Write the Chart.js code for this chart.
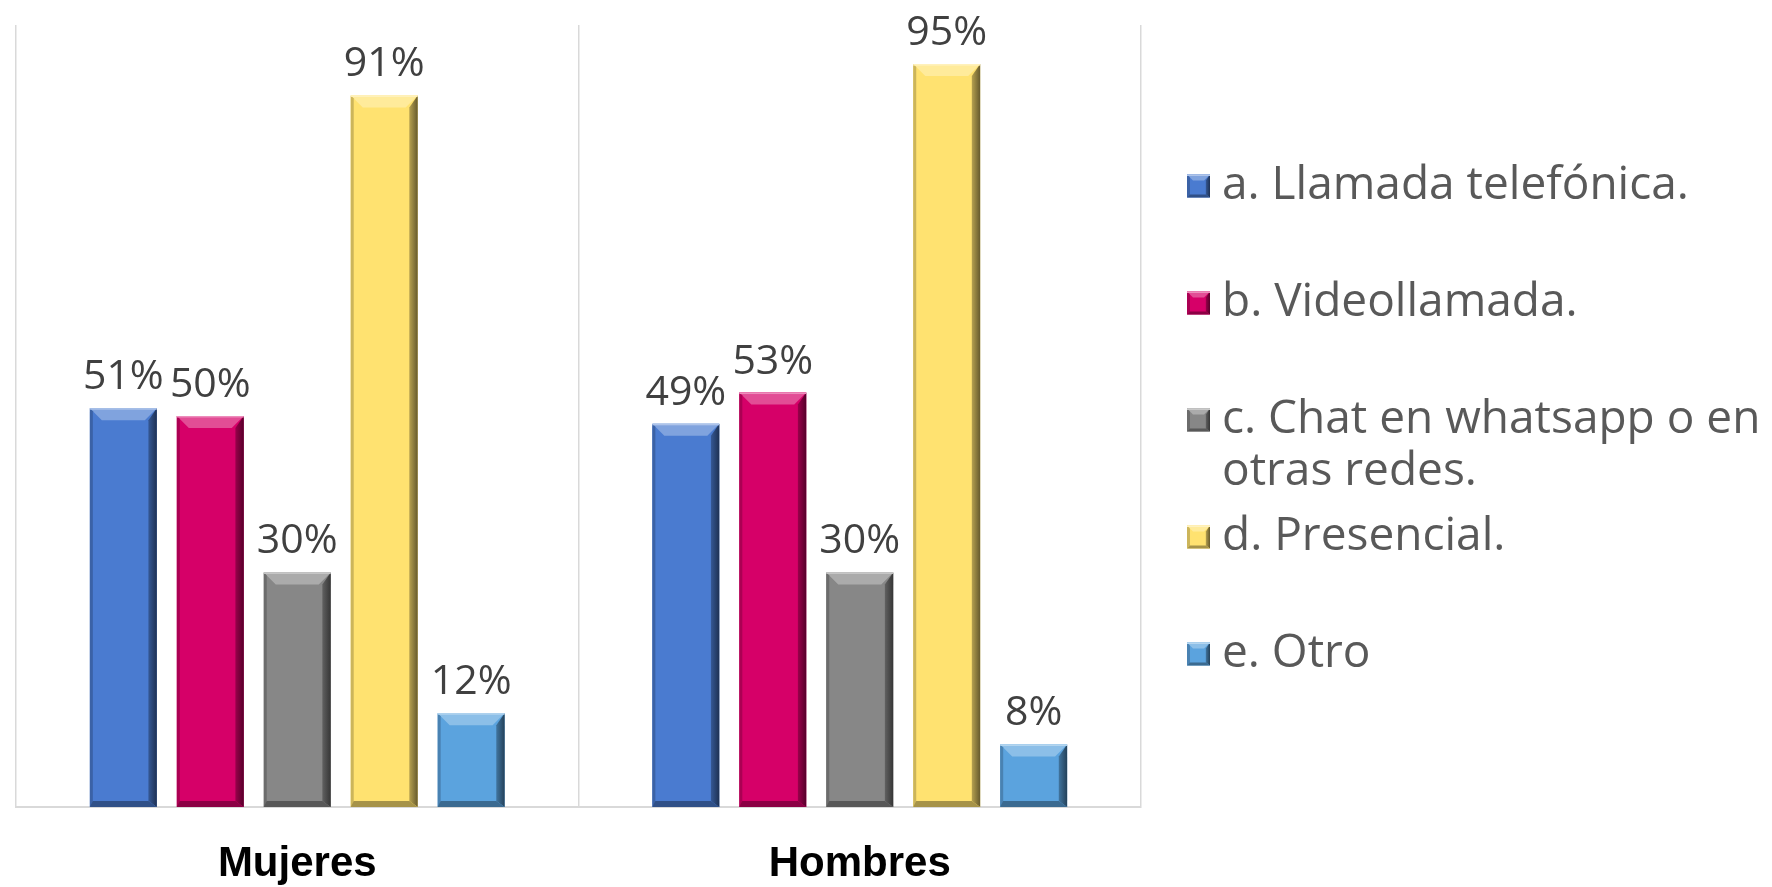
<!DOCTYPE html>
<html><head><meta charset="utf-8">
<script src="https://cdn.jsdelivr.net/npm/chart.js@4/dist/chart.umd.min.js"></script>
<style>html,body{margin:0;padding:0;background:#fff;}#wrap{width:1772px;height:887px;position:relative}</style>
</head><body><div id="wrap"><canvas id="c" width="1772" height="887"></canvas></div>
<script>
const categories = ['Mujeres', 'Hombres'];
const seriesLabels = ['a. Llamada telefónica.', 'b. Videollamada.', 'c. Chat en whatsapp o en otras redes.', 'd. Presencial.', 'e. Otro'];
const llamada = [51, 49];
const videollamada = [50, 53];
const chat = [30, 30];
const presencial = [91, 95];
const otro = [12, 8];
const seriesColors = ['#4A7BD0', '#D60068', '#878787', '#FFE270', '#5BA3DE'];

const seriesValues = [llamada, videollamada, chat, presencial, otro];

function shade(hex, amt) {
  const n = parseInt(hex.slice(1), 16);
  let r = (n >> 16) & 255, g = (n >> 8) & 255, b = n & 255;
  const t = amt < 0 ? 0 : 255, p = Math.abs(amt);
  r = Math.round((t - r) * p + r); g = Math.round((t - g) * p + g); b = Math.round((t - b) * p + b);
  return 'rgb(' + r + ',' + g + ',' + b + ')';
}

function bevel(ctx, x0, x1, top, bottom, color, b) {
  const h = bottom - top;
  const bt = Math.min(b, h / 2);
  // top bevel
  ctx.fillStyle = shade(color, 0.3);
  ctx.beginPath();
  ctx.moveTo(x0, top); ctx.lineTo(x1, top); ctx.lineTo(x1 - bt, top + bt); ctx.lineTo(x0 + bt, top + bt); ctx.closePath(); ctx.fill();
  // right side shadow
  const g = ctx.createLinearGradient(x1 - bt, 0, x1, 0);
  g.addColorStop(0, shade(color, -0.15));
  g.addColorStop(1, shade(color, -0.6));
  ctx.fillStyle = g;
  ctx.beginPath();
  ctx.moveTo(x1, top); ctx.lineTo(x1, bottom); ctx.lineTo(x1 - bt * 0.7, bottom - bt * 0.5); ctx.lineTo(x1 - bt * 0.7, top + bt); ctx.closePath(); ctx.fill();
  // left side
  ctx.fillStyle = shade(color, -0.2);
  ctx.beginPath();
  ctx.moveTo(x0, top); ctx.lineTo(x0 + 3, top + 3); ctx.lineTo(x0 + 3, bottom - 3); ctx.lineTo(x0, bottom); ctx.closePath(); ctx.fill();
  // bottom
  ctx.fillStyle = shade(color, -0.35);
  ctx.beginPath();
  ctx.moveTo(x0, bottom); ctx.lineTo(x1, bottom); ctx.lineTo(x1 - bt * 0.7, bottom - bt * 0.5); ctx.lineTo(x0 + 3, bottom - bt * 0.5); ctx.closePath(); ctx.fill();
  // top highlight line
  ctx.fillStyle = shade(color, 0.55);
  ctx.fillRect(x0, top, x1 - x0, 1.5);
}

const bevelPlugin = {
  id: 'bevel',
  afterDatasetsDraw(chart) {
    const ctx = chart.ctx;
    ctx.save();
    chart.data.datasets.forEach((ds, i) => {
      chart.getDatasetMeta(i).data.forEach((bar) => {
        const w = bar.width;
        bevel(ctx, bar.x - w / 2, bar.x + w / 2, bar.y, bar.base, ds.backgroundColor, 12);
      });
    });
    ctx.restore();
  }
};

const labelPlugin = {
  id: 'valueLabels',
  afterDatasetsDraw(chart) {
    const ctx = chart.ctx;
    ctx.save();
    ctx.fillStyle = '#404040';
    ctx.font = '41px "Open Sans"';
    ctx.textAlign = 'center';
    ctx.textBaseline = 'alphabetic';
    chart.data.datasets.forEach((ds, i) => {
      chart.getDatasetMeta(i).data.forEach((bar, j) => {
        ctx.fillText(ds.data[j] + '%', bar.x, bar.y - 19);
      });
    });
    ctx.restore();
  }
};

const legendPlugin = {
  id: 'sideLegend',
  afterDraw(chart) {
    const ctx = chart.ctx;
    ctx.save();
    const boxX = 1187, box = 23, textX = 1222, maxW = 560, startY = 186, step = 117, lineH = 52;
    ctx.font = '46px "Open Sans"';
    ctx.textBaseline = 'middle';
    ctx.textAlign = 'left';
    chart.data.datasets.forEach((ds, i) => {
      const cy = startY + i * step;
      ctx.fillStyle = ds.backgroundColor;
      ctx.fillRect(boxX, cy - box / 2, box, box);
      bevel(ctx, boxX, boxX + box, cy - box / 2, cy + box / 2, ds.backgroundColor, 6);
      ctx.fillStyle = '#595959';
      const words = ds.label.split(' ');
      let line = '', ly = cy;
      words.forEach((wd) => {
        const test = line ? line + ' ' + wd : wd;
        if (ctx.measureText(test).width > maxW && line) {
          ctx.fillText(line, textX, ly);
          line = wd; ly += lineH;
        } else line = test;
      });
      ctx.fillText(line, textX, ly);
    });
    ctx.restore();
  }
};

new Chart(document.getElementById('c'), {
  type: 'bar',
  data: {
    labels: categories,
    datasets: seriesLabels.map((lab, i) => ({
      label: lab,
      data: seriesValues[i],
      backgroundColor: seriesColors[i],
      borderWidth: 0,
      categoryPercentage: 0.773,
      barPercentage: 0.77
    }))
  },
  options: {
    responsive: false,
    animation: false,
    devicePixelRatio: 1,
    layout: { padding: { left: 16, right: 631, top: 25, bottom: -34 } },
    plugins: { legend: { display: false }, tooltip: { enabled: false } },
    scales: {
      x: {
        grid: { offset: true, color: '#d9d9d9', lineWidth: 1.5, drawTicks: false },
        border: { color: '#d9d9d9', width: 2 },
        ticks: { padding: 36, color: '#000', font: { family: '"Liberation Sans", Arial', weight: 'bold', size: 42, lineHeight: 1.0 } }
      },
      y: { display: false, min: 0, max: 100 }
    }
  },
  plugins: [bevelPlugin, labelPlugin, legendPlugin]
});
</script>
</body></html>
